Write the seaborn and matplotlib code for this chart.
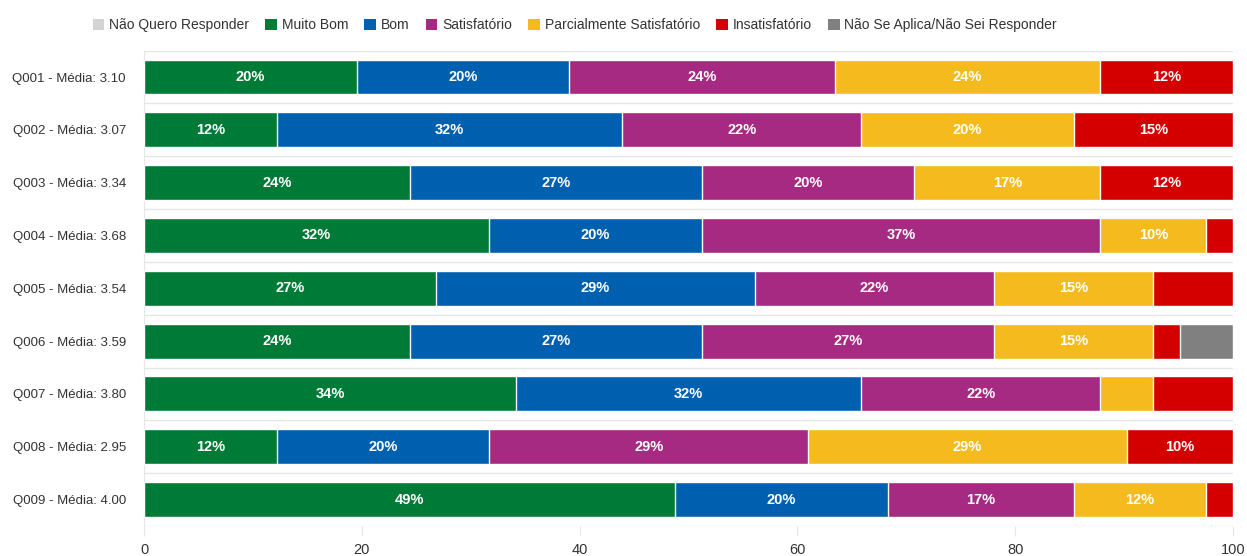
import matplotlib.pyplot as plt
import seaborn as sns
import pandas as pd
import numpy as np
from matplotlib.patches import Patch

questions = ["Q001", "Q002", "Q003", "Q004", "Q005", "Q006", "Q007", "Q008", "Q009"]
medias = ["3.10", "3.07", "3.34", "3.68", "3.54", "3.59", "3.80", "2.95", "4.00"]
total = 41

# answer counts per category (41 respondents)
nao_quero = [0, 0, 0, 0, 0, 0, 0, 0, 0]
muito_bom = [8, 5, 10, 13, 11, 10, 14, 5, 20]
bom = [8, 13, 11, 8, 12, 11, 13, 8, 8]
satisfatorio = [10, 9, 8, 15, 9, 11, 9, 12, 7]
parcial = [10, 8, 7, 4, 6, 6, 2, 12, 5]
insatisfatorio = [5, 6, 5, 1, 3, 1, 3, 4, 1]
nao_se_aplica = [0, 0, 0, 0, 0, 2, 0, 0, 0]

categories = ["Não Quero Responder", "Muito Bom", "Bom", "Satisfatório",
              "Parcialmente Satisfatório", "Insatisfatório",
              "Não Se Aplica/Não Sei Responder"]
colors = ["#d3d3d3", "#007a37", "#0060b0", "#a62982", "#f5bb1e", "#d40000", "#808080"]
series = [nao_quero, muito_bom, bom, satisfatorio, parcial, insatisfatorio, nao_se_aplica]

labels = [f"{q} - Média: {m}" for q, m in zip(questions, medias)]

rows = []
for cat, vals in zip(categories, series):
    for lab, v in zip(labels, vals):
        rows.append({"question": lab, "category": cat, "pct": v / total * 100})
df = pd.DataFrame(rows)
df["cum"] = df.groupby("question")["pct"].cumsum()
df["start"] = df["cum"] - df["pct"]

plt.rcParams["font.family"] = ["Liberation Sans", "DejaVu Sans"]
fig = plt.figure(figsize=(12.47, 5.56), dpi=100)
ax = fig.add_axes([0.1155, 0.054, 0.8733, 0.855])

# overlay cumulative bars, widest first
for cat, col in reversed(list(zip(categories, colors))):
    sub = df[df.category == cat]
    if sub["pct"].sum() == 0:
        continue
    sns.barplot(data=sub, x="cum", y="question", order=labels, color=col,
                saturation=1, orient="h", width=0.66, edgecolor="white",
                linewidth=1, ax=ax, zorder=3)

for _, r in df.iterrows():
    if r["pct"] >= 9:
        yi = labels.index(r["question"])
        ax.text(r["start"] + r["pct"] / 2, yi, f"{round(r['pct'])}%",
                ha="center", va="center", color="white", fontsize=10.5,
                fontweight="bold", zorder=5)

ax.set_xlim(0, 100)
ax.set_ylim(8.5, -0.5)
ax.set_xticks([0, 20, 40, 60, 80, 100])
ax.set_yticks(np.arange(-0.5, 9, 1), minor=True)
ax.grid(False)
ax.grid(True, axis="y", which="minor", color="#e6e6e6", linewidth=1, zorder=0)
ax.set_xlabel("")
ax.set_ylabel("")
for s in ["top", "right", "bottom"]:
    ax.spines[s].set_visible(False)
ax.spines["left"].set_color("#e6e6e6")
ax.tick_params(axis="y", which="both", length=0, labelsize=9.5, labelcolor="#333333", pad=13)
ax.tick_params(axis="x", length=7, color="#e6e6e6", labelsize=10.5, labelcolor="#333333", pad=5)

handles = [Patch(facecolor=c, edgecolor="none", label=l) for c, l in zip(colors, categories)]
fig.legend(handles=handles, loc="upper center", bbox_to_anchor=(0.461, 0.99), ncol=7,
           frameon=False, fontsize=10, handlelength=0.85, handleheight=0.85,
           handletextpad=0.35, columnspacing=1.15, labelcolor="#333333")

fig.savefig("out.png", dpi=100)
